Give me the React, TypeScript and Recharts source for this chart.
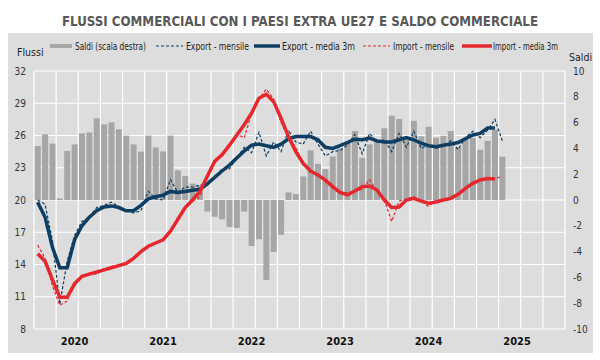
import { ComposedChart, Bar, Line, XAxis, YAxis, CartesianGrid } from "recharts";

const years = ["2020", "2021", "2022", "2023", "2024", "2025"];
const monthNums = ["01", "02", "03", "04", "05", "06", "07", "08", "09", "10", "11", "12"];
const months = years.flatMap((y) => monthNums.map((m) => `${y}-${m}`));

const leftTicks = [8, 11, 14, 17, 20, 23, 26, 29, 32];
const rightTicks = [-10, -8, -6, -4, -2, 0, 2, 4, 6, 8, 10];
const yearTicks = years.map((y) => `${y}-06`);

// saldo commerciale (scala destra)
const saldi = [
  4.19, 5.09, 4.37, 0.13, 3.8, 4.31, 5.17, 5.24, 6.33, 5.87,
  6.02, 5.48, 4.99, 4.31, 3.75, 4.99, 4.08, 3.77, 4.99, 2.3,
  1.86, 1.27, 1.11, -0.9, -1.3, -1.5, -2.09, -2.17, -0.9, -3.57,
  -3.05, -6.2, -4.03, -2.7, 0.59, 0.46, 1.83, 3.85, 2.8, 2.4,
  3.37, 4.0, 4.4, 5.35, 3.27, 4.31, 4.6, 5.56, 6.54, 6.28,
  4.85, 6.14, 4.94, 5.68, 4.83, 4.98, 5.35, 4.1, 4.8, 4.8,
  3.9, 4.58, 5.45, 3.36,
];

const exportMensile = [
  20.0, 19.6, 16.2, 10.3, 14.3, 16.7, 18.0, 18.4, 19.3, 19.5,
  19.8, 19.4, 19.0, 18.8, 19.0, 20.8, 20.1, 20.0, 21.9, 20.7,
  21.2, 21.2, 21.4, 21.4, 22.1, 22.9, 22.9, 23.9, 24.9, 24.4,
  26.3, 24.1, 25.4, 24.5, 26.5, 25.4, 25.2, 26.4, 25.2, 24.1,
  24.5, 24.6, 25.1, 26.1, 24.3, 26.2, 25.4, 25.6, 24.5, 26.2,
  24.9, 26.4, 24.8, 25.1, 24.8, 25.0, 25.5, 24.7, 25.8, 26.4,
  25.8, 26.5, 27.5, 25.5,
];

const export3m = [
  19.8, 18.4, 15.6, 13.7, 13.7, 16.3, 17.6, 18.4, 19.0, 19.35,
  19.45, 19.3, 19.0, 19.0, 19.5, 20.1, 20.3, 20.45, 20.8, 20.7,
  20.8, 20.9, 21.0, 21.5, 22.1, 22.7, 23.25, 23.9, 24.55, 25.1,
  25.2, 25.05, 24.9, 25.2, 25.7, 25.9, 25.9, 25.9, 25.6, 24.9,
  24.8, 25.05, 25.35, 25.65, 25.6, 25.75, 25.5, 25.4, 25.4, 25.6,
  25.8, 25.6, 25.3, 25.05, 24.95, 25.1, 25.2, 25.35, 25.7, 26.05,
  26.2, 26.7, 26.7, null,
];

const importMensile = [
  15.8, 14.6, 12.0, 10.2, 10.6, 12.4, 12.9, 13.2, 13.1, 13.6,
  13.8, 13.9, 14.0, 14.5, 15.2, 15.8, 16.0, 16.2, 17.1, 18.4,
  19.3, 19.9, 20.3, 22.3, 23.4, 24.4, 25.0, 26.1, 25.8, 28.0,
  29.4, 30.3, 29.4, 27.2, 25.9, 24.9, 23.4, 22.6, 22.4, 21.7,
  21.1, 20.6, 20.7, 20.8, 21.0, 21.9, 20.8, 20.0, 18.0, 19.9,
  20.1, 20.3, 19.9, 19.4, 20.0, 20.0, 20.2, 20.6, 21.0, 21.6,
  21.9, 21.9, 22.0, 22.2,
];

const import3m = [
  15.0, 14.3, 12.6, 10.95, 10.95, 12.2, 12.9, 13.1, 13.3, 13.5,
  13.7, 13.9, 14.1, 14.57, 15.2, 15.7, 16.0, 16.3, 17.1, 18.2,
  19.3, 20.0, 20.8, 22.2, 23.6, 24.2, 25.1, 26.05, 27.0, 28.07,
  29.46, 29.83, 29.15, 27.6, 25.9, 24.5, 23.4, 22.7, 22.33, 21.86,
  21.24, 20.7, 20.47, 20.84, 21.24, 21.3, 20.93, 20.0, 19.3, 19.35,
  20.0, 20.15, 19.9, 19.7, 19.8, 20.0, 20.15, 20.53, 21.09, 21.55,
  21.86, 22.0, 21.95, null,
];

const data = months.map((month, i) => ({
  month,
  saldi: saldi[i] ?? null,
  exportMensile: exportMensile[i] ?? null,
  export3m: export3m[i] ?? null,
  importMensile: importMensile[i] ?? null,
  import3m: import3m[i] ?? null,
}));

const NAVY = "#0f3e63";
const RED = "#e4282e";
const BAR = "#a6a6a6";
const BG = "#dddddd";
const FONT = "'Liberation Sans Narrow', 'Arial Narrow', 'DejaVu Sans Condensed', sans-serif";

const tickStyle = { fontSize: 10, fill: "#333", fontFamily: FONT };

export default function App() {
  return (
    <div style={{ position: "fixed", left: 0, top: 0, width: 600, height: 360, background: "#fff" }}>
      <div style={{ position: "absolute", left: 8, top: 33, width: 585, height: 320, background: BG }} />
      <svg width={600} height={70} style={{ position: "absolute", left: 0, top: 0 }}>
        <text
          x={300}
          y={26}
          textAnchor="middle"
          textLength={476}
          lengthAdjust="spacingAndGlyphs"
          fontFamily={FONT}
          fontWeight="bold"
          fontSize={13.5}
          fill="#595959"
        >
          FLUSSI COMMERCIALI CON I PAESI EXTRA UE27 E SALDO COMMERCIALE
        </text>
        <g fontFamily={FONT} fontSize={10.5} fill="#222">
          <text x={17} y={56}>Flussi</text>
          <text x={569} y={61}>Saldi</text>
          <rect x={50} y={44} width={22} height={4} fill={BAR} />
          <text x={75} y={50} textLength={71} lengthAdjust="spacingAndGlyphs">Saldi (scala destra)</text>
          <line x1={156} x2={183} y1={46} y2={46} stroke={NAVY} strokeWidth={1.2} strokeDasharray="3 2" />
          <text x={186} y={50} textLength={63} lengthAdjust="spacingAndGlyphs">Export - mensile</text>
          <line x1={254} x2={280} y1={46} y2={46} stroke={NAVY} strokeWidth={3.5} />
          <text x={282} y={50} textLength={73} lengthAdjust="spacingAndGlyphs">Export - media 3m</text>
          <line x1={363} x2={390} y1={46} y2={46} stroke={RED} strokeWidth={1.2} strokeDasharray="3 2" />
          <text x={393} y={50} textLength={61} lengthAdjust="spacingAndGlyphs">Import - mensile</text>
          <line x1={462} x2={492} y1={46} y2={46} stroke={RED} strokeWidth={3.5} />
          <text x={493} y={50} textLength={65} lengthAdjust="spacingAndGlyphs">Import - media 3m</text>
        </g>
      </svg>
      <div style={{ position: "absolute", left: 0, top: 0 }}>
        <ComposedChart
          width={600}
          height={360}
          data={data}
          margin={{ top: 71, right: 0, bottom: 0, left: 0 }}
          barCategoryGap="10%"
        >
          <CartesianGrid
            yAxisId="left"
            stroke="#ffffff"
            strokeWidth={1.2}
            verticalCoordinatesGenerator={({ offset }: any) =>
              Array.from({ length: 25 }, (_, j) => offset.left + (offset.width * j) / 24)
            }
          />
          <XAxis
            dataKey="month"
            height={31}
            ticks={yearTicks}
            interval={0}
            tickFormatter={(v: string) => v.slice(0, 4)}
            axisLine={false}
            tickLine={false}
            tick={{ ...tickStyle, fontSize: 11, fontWeight: "bold", fill: "#111" }}
          />
          <YAxis
            yAxisId="left"
            width={34}
            domain={[8, 32]}
            ticks={leftTicks}
            axisLine={false}
            tickLine={false}
            tick={tickStyle}
          />
          <YAxis
            yAxisId="right"
            orientation="right"
            width={35}
            domain={[-10, 10]}
            ticks={rightTicks}
            axisLine={false}
            tickLine={false}
            tick={tickStyle}
          />
          <Bar yAxisId="right" dataKey="saldi" fill={BAR} isAnimationActive={false} />
          <Line yAxisId="left" type="linear" dataKey="exportMensile" stroke={NAVY} strokeWidth={1.2} strokeDasharray="3 2" dot={false} isAnimationActive={false} />
          <Line yAxisId="left" type="linear" dataKey="export3m" stroke={NAVY} strokeWidth={3.5} dot={false} isAnimationActive={false} />
          <Line yAxisId="left" type="linear" dataKey="importMensile" stroke={RED} strokeWidth={1.2} strokeDasharray="3 2" dot={false} isAnimationActive={false} />
          <Line yAxisId="left" type="linear" dataKey="import3m" stroke={RED} strokeWidth={3.5} dot={false} isAnimationActive={false} />
        </ComposedChart>
      </div>
    </div>
  );
}
